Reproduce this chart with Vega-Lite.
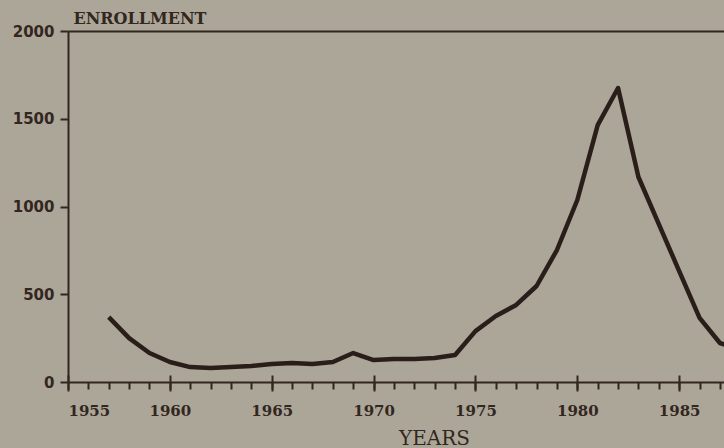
{
  "$schema": "https://vega.github.io/schema/vega-lite/v6.json",
  "width": 656,
  "height": 351,
  "padding": {"left": 12, "top": 10, "right": 0, "bottom": 0},
  "background": "#aba698",
  "config": {
    "view": {"stroke": null},
    "axis": {"domainColor": "#33261f", "tickColor": "#33261f", "labelColor": "#33261f", "titleColor": "#33261f", "grid": false}
  },
  "datasets": {
    "enr": [
      {"year": 1957, "enrollment": 370},
      {"year": 1958, "enrollment": 250},
      {"year": 1959, "enrollment": 165},
      {"year": 1960, "enrollment": 114},
      {"year": 1961, "enrollment": 85},
      {"year": 1962, "enrollment": 80},
      {"year": 1963, "enrollment": 85},
      {"year": 1964, "enrollment": 91},
      {"year": 1965, "enrollment": 103},
      {"year": 1966, "enrollment": 108},
      {"year": 1967, "enrollment": 103},
      {"year": 1968, "enrollment": 114},
      {"year": 1969, "enrollment": 165},
      {"year": 1970, "enrollment": 125},
      {"year": 1971, "enrollment": 131},
      {"year": 1972, "enrollment": 131},
      {"year": 1973, "enrollment": 137},
      {"year": 1974, "enrollment": 154},
      {"year": 1975, "enrollment": 290},
      {"year": 1976, "enrollment": 376},
      {"year": 1977, "enrollment": 439},
      {"year": 1978, "enrollment": 547},
      {"year": 1979, "enrollment": 752},
      {"year": 1980, "enrollment": 1037},
      {"year": 1981, "enrollment": 1464},
      {"year": 1982, "enrollment": 1675},
      {"year": 1983, "enrollment": 1168},
      {"year": 1984, "enrollment": 900},
      {"year": 1985, "enrollment": 632},
      {"year": 1986, "enrollment": 365},
      {"year": 1987, "enrollment": 222},
      {"year": 1988, "enrollment": 182}
    ]
  },
  "data": {"name": "enr"},
  "layer": [
    {
      "mark": {"type": "line", "color": "#2a1e1a", "strokeWidth": 4.5, "clip": true, "strokeJoin": "round"},
      "encoding": {
        "x": {
          "field": "year", "type": "quantitative",
          "scale": {"domain": [1955, 1987.2], "nice": false, "zero": false},
          "axis": {
            "orient": "bottom",
            "values": [1955, 1960, 1965, 1970, 1975, 1980, 1985],
            "format": "d", "tickSize": 9, "tickWidth": 2, "domainWidth": 2,
            "labelFont": "DejaVu Serif", "labelFontWeight": "bold", "labelFontSize": 15, "labelPadding": 12,
            "title": "YEARS", "titleFont": "DejaVu Serif", "titleFontWeight": "normal", "titleFontSize": 20,
            "titleX": 366, "titleY": 62, "titleBaseline": "alphabetic"
          }
        },
        "y": {
          "field": "enrollment", "type": "quantitative",
          "scale": {"domain": [0, 2000], "nice": false},
          "axis": {
            "values": [0, 500, 1000, 1500, 2000], "format": "d",
            "tickSize": 8, "tickWidth": 2, "domainWidth": 2,
            "labelFont": "DejaVu Sans", "labelFontWeight": "bold", "labelFontSize": 15, "labelPadding": 6,
            "title": "ENROLLMENT", "titleAngle": 0, "titleX": 5, "titleY": -8, "titleAlign": "left", "titleBaseline": "alphabetic",
            "titleFont": "DejaVu Serif", "titleFontWeight": "bold", "titleFontSize": 16
          }
        }
      }
    },
    {
      "mark": {"type": "line", "strokeOpacity": 0},
      "encoding": {
        "x": {
          "field": "year", "type": "quantitative",
          "axis": {
            "orient": "bottom",
            "values": [1955, 1956, 1957, 1958, 1959, 1960, 1961, 1962, 1963, 1964, 1965, 1966, 1967, 1968, 1969, 1970, 1971, 1972, 1973, 1974, 1975, 1976, 1977, 1978, 1979, 1980, 1981, 1982, 1983, 1984, 1985, 1986, 1987],
            "tickSize": 7, "tickWidth": 2, "labels": false, "domain": false, "title": null
          }
        },
        "y": {"field": "enrollment", "type": "quantitative"}
      }
    },
    {
      "mark": {"type": "line", "strokeOpacity": 0},
      "encoding": {
        "x": {
          "field": "year", "type": "quantitative",
          "axis": {
            "orient": "bottom",
            "values": [1955, 1960, 1965, 1970, 1975, 1980, 1985],
            "tickSize": -7, "tickWidth": 2, "labels": false, "domain": false, "title": null
          }
        },
        "y": {"field": "enrollment", "type": "quantitative"}
      }
    },
    {
      "mark": {"type": "line", "strokeOpacity": 0},
      "encoding": {
        "x": {
          "field": "year", "type": "quantitative",
          "axis": {"orient": "top", "ticks": false, "labels": false, "domain": true, "domainWidth": 2, "title": null}
        },
        "y": {"field": "enrollment", "type": "quantitative"}
      }
    }
  ],
  "resolve": {"axis": {"x": "independent"}}
}
